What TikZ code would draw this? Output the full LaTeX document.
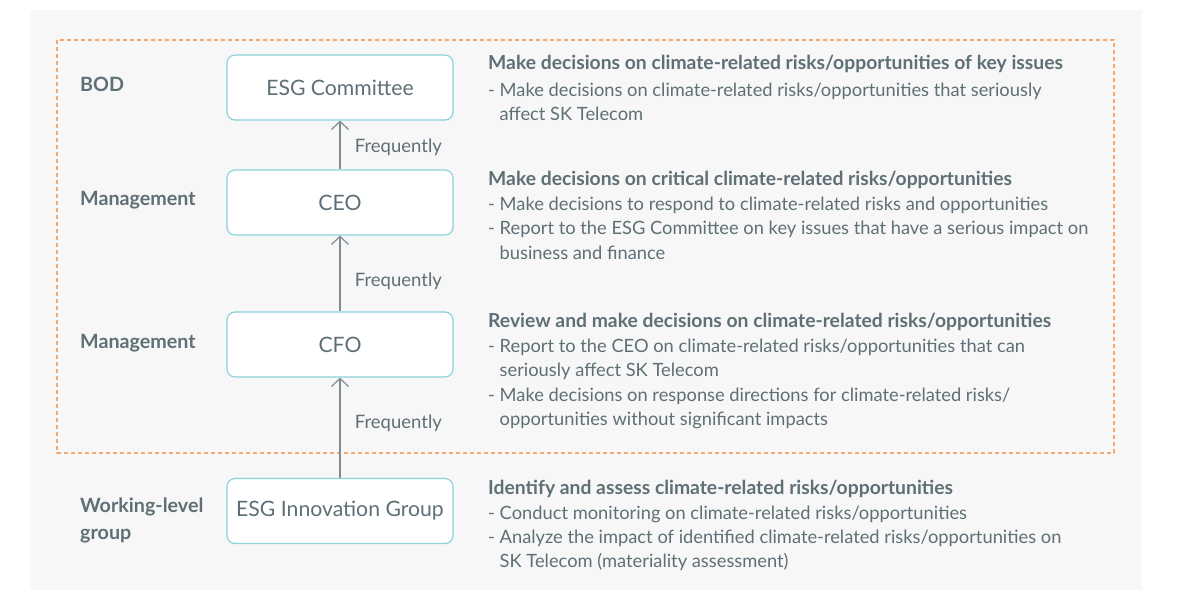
\documentclass[tikz,border=0pt]{standalone}
\usepackage{fontspec}
\setmainfont{Lato}
\usetikzlibrary{arrows.meta}
\definecolor{bgGray}{HTML}{F7F7F7}
\definecolor{txtGray}{HTML}{5E6F76}
\definecolor{lineGray}{HTML}{7E8D93}
\definecolor{boxTeal}{HTML}{8DD2D8}
\definecolor{dashOrange}{HTML}{F5A86E}
\tikzstyle{orgbox} = [
    rectangle,
    rounded corners=8pt,
    minimum width=226pt,
    minimum height=65pt,
    draw=boxTeal,
    fill=white,
    line width=1.2pt,
    text=txtGray,
    font=\fontsize{21.2}{24}\selectfont
]
\tikzstyle{level} = [
    anchor=west,
    text=txtGray,
    align=left,
    inner sep=0pt,
    font=\bfseries\fontsize{19.7}{27}\selectfont
]
\tikzstyle{duty} = [
    anchor=north west,
    text=txtGray,
    align=left,
    inner sep=0pt,
    font=\fontsize{18.3}{24.2}\selectfont
]
\tikzstyle{freq} = [right, xshift=11pt, yshift=-2pt, text=txtGray, font=\fontsize{18.5}{20}\selectfont]
\tikzstyle{arrow} = [line width=1.2pt, draw=lineGray, -{Straight Barb[length=8pt,width=17pt]}]
\newcommand{\ind}{\phantom{- }}
\newcommand{\roletitle}[1]{{\bfseries\fontsize{19.3}{24.2}\selectfont #1}}

\begin{document}
\begin{tikzpicture}[x=1pt, y=-1pt]

\useasboundingbox (0,0) rectangle (1182,590);
\fill[bgGray] (30,10) rectangle (1142,590);
\draw[dashOrange, line width=1.2pt, dash pattern=on 4pt off 3pt] (57,40) rectangle (1114,453);

% boxes
\node (esg) [orgbox] at (340,87.5) {ESG Committee};
\node (ceo) [orgbox] at (340,202.5) {CEO};
\node (cfo) [orgbox] at (340,344.5) {CFO};
\node (innov) [orgbox] at (340,511) {ESG Innovation Group};

% levels
\node (bod) [level] at (80,84) {BOD};
\node (mgmt1) [level] at (80,200) {Management};
\node (mgmt2) [level] at (80,343) {Management};
\node (work) [level] at (80,520) {Working-level\\group};

% roles
\node (role1) [duty] at (488,54.5) {\roletitle{Make decisions on climate-related risks/opportunities of key issues}\\[3pt]
- Make decisions on climate-related risks/opportunities that seriously\\
\ind affect SK Telecom};
\node (role2) [duty] at (488,170.5) {\roletitle{Make decisions on critical climate-related risks/opportunities}\\[1.5pt]
- Make decisions to respond to climate-related risks and opportunities\\
- Report to the ESG Committee on key issues that have a serious impact on\\
\ind business and finance};
\node (role3) [duty] at (488,313) {\roletitle{Review and make decisions on climate-related risks/opportunities}\\[1pt]
- Report to the CEO on climate-related risks/opportunities that can\\
\ind seriously affect SK Telecom\\
- Make decisions on response directions for climate-related risks/\\
\ind opportunities without significant impacts};
\node (role4) [duty] at (488,479.5) {\roletitle{Identify and assess climate-related risks/opportunities}\\[1pt]
- Conduct monitoring on climate-related risks/opportunities\\
- Analyze the impact of identified climate-related risks/opportunities on\\
\ind SK Telecom (materiality assessment)};

% reporting lines
\draw [arrow] (ceo) -- node[freq, pos=0.5] {Frequently} (esg);
\draw [arrow] (cfo) -- node[freq, pos=0.43] {Frequently} (ceo);
\draw [arrow] (innov) -- node[freq, pos=0.56] {Frequently} (cfo);

\end{tikzpicture}
\end{document}
